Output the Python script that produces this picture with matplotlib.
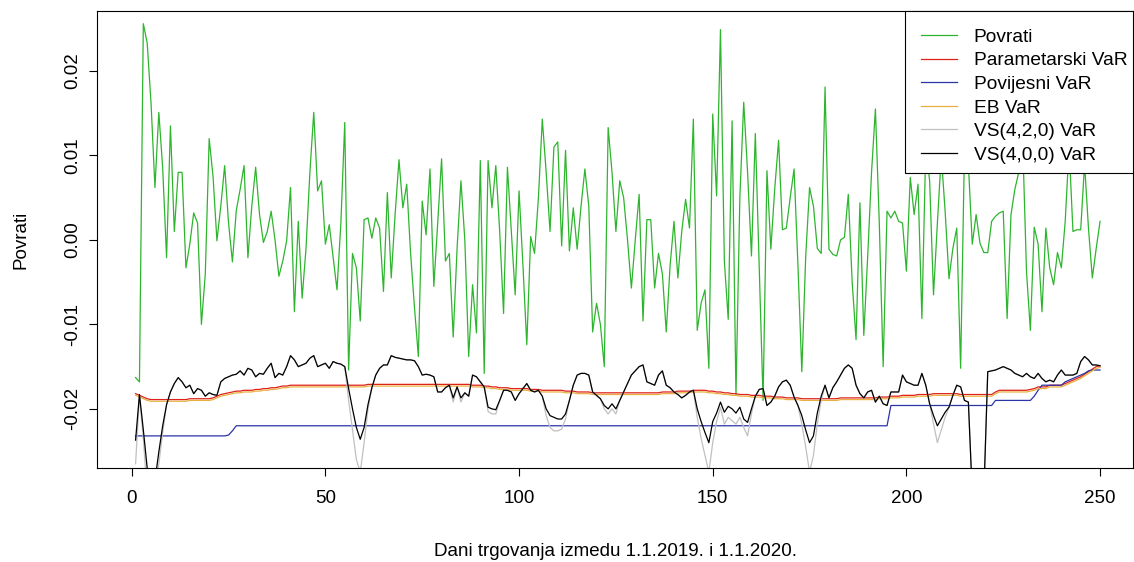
import numpy as np
import matplotlib.pyplot as plt
from matplotlib.patches import Rectangle

plt.rcParams['font.family'] = ['Liberation Sans', 'DejaVu Sans']

# trading days 1..250
dani = np.arange(1, 251)

# daily returns (Povrati)
povrati = [
    -0.0163, -0.0168, 0.0256, 0.0233, 0.0161, 0.0062, 0.0151, 0.0085, -0.0021, 0.0135,
    0.0010, 0.0080, 0.0080, -0.0033, -0.0005, 0.0032, 0.0020, -0.0100, -0.0040, 0.0120,
    0.0075, -0.0001, 0.0040, 0.0088, 0.0020, -0.0026, 0.0035, 0.0060, 0.0088, -0.0021,
    0.0040, 0.0086, 0.0030, -0.0003, 0.0010, 0.0034, 0.0000, -0.0043, -0.0025, -0.0001,
    0.0062, -0.0085, 0.0022, -0.0069, -0.0010, 0.0080, 0.0151, 0.0058, 0.0070, -0.0005,
    0.0018, -0.0020, -0.0059, 0.0020, 0.0139, -0.0154, -0.0016, -0.0033, -0.0096, 0.0024,
    0.0026, 0.0002, 0.0026, 0.0014, -0.0061, 0.0056, -0.0045, 0.0030, 0.0095, 0.0038,
    0.0066, -0.0016, -0.0080, -0.0138, 0.0046, 0.0006, 0.0084, -0.0055, 0.0020, 0.0096,
    -0.0025, -0.0016, -0.0115, -0.0010, 0.0070, 0.0000, -0.0138, -0.0053, -0.0110, 0.0094,
    -0.0158, 0.0094, 0.0038, 0.0088, 0.0010, -0.0087, 0.0086, 0.0010, -0.0065, 0.0058,
    -0.0030, -0.0124, 0.0004, -0.0016, 0.0050, 0.0143, 0.0080, 0.0010, 0.0110, 0.0116,
    -0.0007, 0.0106, -0.0013, 0.0038, -0.0011, 0.0040, 0.0084, 0.0040, -0.0109, -0.0075,
    -0.0100, -0.0150, 0.0133, 0.0080, 0.0010, 0.0070, 0.0050, 0.0000, -0.0057, 0.0000,
    0.0054, -0.0096, 0.0024, 0.0024, -0.0057, -0.0016, -0.0040, -0.0109, -0.0030, 0.0022,
    -0.0045, 0.0010, 0.0048, 0.0014, 0.0143, -0.0107, -0.0075, -0.0059, -0.0152, 0.0149,
    0.0052, 0.0249, -0.0025, -0.0094, 0.0141, -0.0184, 0.0050, 0.0163, 0.0080, -0.0019,
    0.0126, -0.0030, -0.0190, 0.0082, -0.0011, 0.0060, 0.0118, 0.0012, 0.0014, 0.0050,
    0.0084, -0.0030, -0.0156, -0.0020, 0.0062, 0.0040, -0.0010, -0.0016, 0.0181, -0.0011,
    -0.0017, -0.0019, 0.0000, 0.0003, 0.0054, -0.0050, -0.0118, 0.0044, -0.0113, -0.0020,
    0.0080, 0.0155, 0.0020, -0.0150, 0.0034, 0.0026, 0.0034, 0.0022, 0.0020, -0.0037,
    0.0074, 0.0030, 0.0066, -0.0093, 0.0110, 0.0070, -0.0065, 0.0020, 0.0100, 0.0034,
    -0.0046, -0.0010, 0.0014, -0.0152, 0.0110, 0.0090, -0.0005, 0.0030, -0.0004, -0.0015,
    -0.0015, 0.0022, 0.0028, 0.0032, 0.0034, -0.0093, 0.0030, 0.0060, 0.0080, 0.0120,
    -0.0037, -0.0107, 0.0015, -0.0005, -0.0085, 0.0014, -0.0033, -0.0053, -0.0015, -0.0033,
    0.0022, 0.0110, 0.0010, 0.0012, 0.0012, 0.0090, 0.0014, -0.0045, -0.0010, 0.0022,
]

# parametric VaR
param_var = [
    -0.0182, -0.0184, -0.0186, -0.0188, -0.0189, -0.0189, -0.0189, -0.0189, -0.0189, -0.0189,
    -0.0189, -0.0189, -0.0189, -0.0189, -0.0188, -0.0188, -0.0188, -0.0188, -0.0188, -0.0188,
    -0.0187, -0.0185, -0.0183, -0.0182, -0.0181, -0.0180, -0.0179, -0.0179, -0.0178, -0.0178,
    -0.0178, -0.0177, -0.0177, -0.0176, -0.0176, -0.0175, -0.0175, -0.0174, -0.0173, -0.0173,
    -0.0172, -0.0172, -0.0172, -0.0172, -0.0172, -0.0172, -0.0172, -0.0172, -0.0172, -0.0172,
    -0.0172, -0.0172, -0.0172, -0.0172, -0.0172, -0.0172, -0.0172, -0.0172, -0.0172, -0.0172,
    -0.0171, -0.0171, -0.0171, -0.0171, -0.0171, -0.0171, -0.0171, -0.0171, -0.0171, -0.0171,
    -0.0171, -0.0171, -0.0171, -0.0171, -0.0171, -0.0171, -0.0171, -0.0171, -0.0171, -0.0171,
    -0.0171, -0.0171, -0.0171, -0.0171, -0.0171, -0.0171, -0.0171, -0.0172, -0.0172, -0.0172,
    -0.0173, -0.0173, -0.0174, -0.0174, -0.0175, -0.0175, -0.0175, -0.0176, -0.0176, -0.0176,
    -0.0176, -0.0176, -0.0177, -0.0177, -0.0177, -0.0178, -0.0178, -0.0178, -0.0178, -0.0178,
    -0.0178, -0.0179, -0.0179, -0.0179, -0.0180, -0.0180, -0.0180, -0.0180, -0.0181, -0.0181,
    -0.0181, -0.0181, -0.0181, -0.0181, -0.0181, -0.0181, -0.0181, -0.0181, -0.0181, -0.0181,
    -0.0181, -0.0181, -0.0181, -0.0181, -0.0181, -0.0181, -0.0180, -0.0180, -0.0180, -0.0180,
    -0.0179, -0.0179, -0.0179, -0.0179, -0.0178, -0.0178, -0.0178, -0.0178, -0.0179, -0.0179,
    -0.0180, -0.0180, -0.0181, -0.0181, -0.0182, -0.0182, -0.0183, -0.0183, -0.0183, -0.0184,
    -0.0184, -0.0184, -0.0185, -0.0185, -0.0185, -0.0186, -0.0186, -0.0186, -0.0187, -0.0187,
    -0.0187, -0.0187, -0.0188, -0.0188, -0.0188, -0.0188, -0.0188, -0.0188, -0.0188, -0.0188,
    -0.0188, -0.0188, -0.0187, -0.0187, -0.0187, -0.0187, -0.0187, -0.0187, -0.0187, -0.0187,
    -0.0187, -0.0187, -0.0186, -0.0186, -0.0186, -0.0185, -0.0185, -0.0185, -0.0184, -0.0184,
    -0.0184, -0.0184, -0.0183, -0.0183, -0.0183, -0.0183, -0.0182, -0.0182, -0.0182, -0.0182,
    -0.0182, -0.0182, -0.0182, -0.0183, -0.0183, -0.0183, -0.0183, -0.0183, -0.0183, -0.0183,
    -0.0183, -0.0183, -0.0180, -0.0178, -0.0178, -0.0178, -0.0178, -0.0178, -0.0178, -0.0178,
    -0.0178, -0.0177, -0.0176, -0.0174, -0.0174, -0.0174, -0.0172, -0.0172, -0.0172, -0.0172,
    -0.0170, -0.0168, -0.0166, -0.0164, -0.0162, -0.0159, -0.0156, -0.0153, -0.0150, -0.0149,
]

# historical VaR (step levels)
hist_var = ([-0.0232] * 24 + [-0.0231, -0.0226] + [-0.0220] * 169 + [-0.0196] * 27
            + [-0.0190] * 10 + [-0.0185, -0.0178] + [-0.0172] * 6
            + [-0.0168, -0.0166, -0.0164, -0.0162, -0.0160, -0.0158, -0.0155, -0.0154, -0.0154, -0.0154])

# EB VaR
eb_var = [
    -0.0184, -0.0186, -0.0188, -0.0190, -0.0191, -0.0191, -0.0191, -0.0191, -0.0191, -0.0191,
    -0.0191, -0.0191, -0.0191, -0.0191, -0.0190, -0.0190, -0.0190, -0.0190, -0.0190, -0.0190,
    -0.0189, -0.0187, -0.0185, -0.0184, -0.0183, -0.0182, -0.0181, -0.0181, -0.0180, -0.0180,
    -0.0180, -0.0179, -0.0179, -0.0178, -0.0178, -0.0177, -0.0177, -0.0176, -0.0175, -0.0175,
    -0.0174, -0.0174, -0.0174, -0.0174, -0.0174, -0.0174, -0.0174, -0.0174, -0.0174, -0.0174,
    -0.0174, -0.0174, -0.0174, -0.0174, -0.0174, -0.0174, -0.0174, -0.0174, -0.0174, -0.0174,
    -0.0173, -0.0173, -0.0173, -0.0173, -0.0173, -0.0173, -0.0173, -0.0173, -0.0173, -0.0173,
    -0.0173, -0.0173, -0.0173, -0.0173, -0.0173, -0.0173, -0.0173, -0.0173, -0.0173, -0.0173,
    -0.0173, -0.0173, -0.0173, -0.0173, -0.0173, -0.0173, -0.0173, -0.0174, -0.0174, -0.0174,
    -0.0175, -0.0175, -0.0176, -0.0176, -0.0177, -0.0177, -0.0177, -0.0178, -0.0178, -0.0178,
    -0.0178, -0.0178, -0.0179, -0.0179, -0.0179, -0.0180, -0.0180, -0.0180, -0.0180, -0.0180,
    -0.0180, -0.0181, -0.0181, -0.0181, -0.0182, -0.0182, -0.0182, -0.0182, -0.0183, -0.0183,
    -0.0183, -0.0183, -0.0183, -0.0183, -0.0183, -0.0183, -0.0183, -0.0183, -0.0183, -0.0183,
    -0.0183, -0.0183, -0.0183, -0.0183, -0.0183, -0.0183, -0.0182, -0.0182, -0.0182, -0.0182,
    -0.0181, -0.0181, -0.0181, -0.0181, -0.0180, -0.0180, -0.0180, -0.0180, -0.0181, -0.0181,
    -0.0182, -0.0182, -0.0183, -0.0183, -0.0184, -0.0184, -0.0185, -0.0185, -0.0185, -0.0186,
    -0.0186, -0.0186, -0.0187, -0.0187, -0.0187, -0.0188, -0.0188, -0.0188, -0.0189, -0.0189,
    -0.0189, -0.0189, -0.0190, -0.0190, -0.0190, -0.0190, -0.0190, -0.0190, -0.0190, -0.0190,
    -0.0190, -0.0190, -0.0189, -0.0189, -0.0189, -0.0189, -0.0189, -0.0189, -0.0189, -0.0189,
    -0.0189, -0.0189, -0.0188, -0.0188, -0.0188, -0.0187, -0.0187, -0.0187, -0.0186, -0.0186,
    -0.0186, -0.0186, -0.0185, -0.0185, -0.0185, -0.0185, -0.0184, -0.0184, -0.0184, -0.0184,
    -0.0184, -0.0184, -0.0184, -0.0185, -0.0185, -0.0185, -0.0185, -0.0185, -0.0185, -0.0185,
    -0.0185, -0.0185, -0.0182, -0.0180, -0.0180, -0.0180, -0.0180, -0.0180, -0.0180, -0.0180,
    -0.0180, -0.0179, -0.0178, -0.0176, -0.0176, -0.0176, -0.0174, -0.0174, -0.0174, -0.0174,
    -0.0172, -0.0170, -0.0168, -0.0166, -0.0164, -0.0161, -0.0158, -0.0155, -0.0152, -0.0151,
]

# VS(4,2,0) VaR
vs420_var = [
    -0.0265, -0.0185, -0.0235, -0.0300, -0.0300, -0.0300, -0.0265, -0.0228, -0.0195, -0.0180,
    -0.0170, -0.0163, -0.0168, -0.0175, -0.0172, -0.0182, -0.0176, -0.0178, -0.0185, -0.0181,
    -0.0183, -0.0184, -0.0168, -0.0164, -0.0162, -0.0160, -0.0159, -0.0155, -0.0160, -0.0152,
    -0.0154, -0.0162, -0.0158, -0.0159, -0.0152, -0.0146, -0.0163, -0.0158, -0.0160, -0.0150,
    -0.0137, -0.0142, -0.0150, -0.0148, -0.0146, -0.0140, -0.0137, -0.0150, -0.0148, -0.0146,
    -0.0152, -0.0144, -0.0146, -0.0147, -0.0150, -0.0190, -0.0225, -0.0260, -0.0275, -0.0240,
    -0.0200, -0.0175, -0.0160, -0.0152, -0.0148, -0.0148, -0.0137, -0.0139, -0.0140, -0.0141,
    -0.0142, -0.0142, -0.0143, -0.0150, -0.0160, -0.0159, -0.0160, -0.0162, -0.0180, -0.0180,
    -0.0175, -0.0172, -0.0192, -0.0174, -0.0192, -0.0181, -0.0185, -0.0160, -0.0162, -0.0168,
    -0.0174, -0.0203, -0.0206, -0.0206, -0.0190, -0.0178, -0.0178, -0.0180, -0.0190, -0.0182,
    -0.0176, -0.0170, -0.0178, -0.0180, -0.0178, -0.0185, -0.0208, -0.0222, -0.0226, -0.0226,
    -0.0224, -0.0212, -0.0190, -0.0172, -0.0160, -0.0158, -0.0158, -0.0160, -0.0180, -0.0184,
    -0.0188, -0.0200, -0.0206, -0.0200, -0.0206, -0.0190, -0.0180, -0.0170, -0.0160, -0.0155,
    -0.0150, -0.0148, -0.0168, -0.0170, -0.0172, -0.0160, -0.0155, -0.0172, -0.0175, -0.0180,
    -0.0183, -0.0187, -0.0184, -0.0180, -0.0178, -0.0210, -0.0235, -0.0255, -0.0275, -0.0240,
    -0.0215, -0.0198, -0.0218, -0.0210, -0.0214, -0.0218, -0.0210, -0.0222, -0.0232, -0.0206,
    -0.0185, -0.0177, -0.0176, -0.0196, -0.0192, -0.0185, -0.0174, -0.0168, -0.0166, -0.0172,
    -0.0186, -0.0196, -0.0218, -0.0245, -0.0275, -0.0255, -0.0218, -0.0190, -0.0172, -0.0187,
    -0.0175, -0.0168, -0.0160, -0.0152, -0.0148, -0.0152, -0.0172, -0.0182, -0.0187, -0.0180,
    -0.0178, -0.0192, -0.0185, -0.0194, -0.0196, -0.0180, -0.0180, -0.0180, -0.0160, -0.0168,
    -0.0170, -0.0172, -0.0172, -0.0158, -0.0172, -0.0194, -0.0218, -0.0240, -0.0225, -0.0210,
    -0.0198, -0.0184, -0.0172, -0.0174, -0.0190, -0.0192, -0.0300, -0.0300, -0.0300, -0.0300,
    -0.0156, -0.0155, -0.0154, -0.0152, -0.0150, -0.0152, -0.0154, -0.0158, -0.0160, -0.0162,
    -0.0158, -0.0162, -0.0164, -0.0158, -0.0164, -0.0168, -0.0166, -0.0168, -0.0160, -0.0154,
    -0.0160, -0.0160, -0.0160, -0.0158, -0.0144, -0.0138, -0.0142, -0.0148, -0.0148, -0.0149,
]

# VS(4,0,0) VaR
vs400_var = [
    -0.0237, -0.0183, -0.0225, -0.0270, -0.0290, -0.0285, -0.0251, -0.0220, -0.0195, -0.0180,
    -0.0170, -0.0163, -0.0168, -0.0175, -0.0172, -0.0182, -0.0176, -0.0178, -0.0185, -0.0181,
    -0.0183, -0.0184, -0.0168, -0.0164, -0.0162, -0.0160, -0.0159, -0.0155, -0.0160, -0.0152,
    -0.0154, -0.0162, -0.0158, -0.0159, -0.0152, -0.0146, -0.0163, -0.0158, -0.0160, -0.0150,
    -0.0137, -0.0142, -0.0150, -0.0148, -0.0146, -0.0140, -0.0137, -0.0150, -0.0148, -0.0146,
    -0.0152, -0.0144, -0.0146, -0.0147, -0.0150, -0.0176, -0.0200, -0.0222, -0.0236, -0.0222,
    -0.0195, -0.0175, -0.0160, -0.0152, -0.0148, -0.0148, -0.0137, -0.0139, -0.0140, -0.0141,
    -0.0142, -0.0142, -0.0143, -0.0150, -0.0160, -0.0159, -0.0160, -0.0162, -0.0180, -0.0180,
    -0.0175, -0.0172, -0.0187, -0.0174, -0.0187, -0.0181, -0.0185, -0.0160, -0.0162, -0.0168,
    -0.0174, -0.0198, -0.0200, -0.0201, -0.0190, -0.0178, -0.0178, -0.0180, -0.0190, -0.0182,
    -0.0176, -0.0170, -0.0178, -0.0180, -0.0178, -0.0185, -0.0200, -0.0208, -0.0210, -0.0212,
    -0.0212, -0.0206, -0.0190, -0.0172, -0.0160, -0.0158, -0.0158, -0.0160, -0.0180, -0.0184,
    -0.0188, -0.0196, -0.0200, -0.0194, -0.0200, -0.0190, -0.0180, -0.0170, -0.0160, -0.0155,
    -0.0150, -0.0148, -0.0168, -0.0170, -0.0172, -0.0160, -0.0155, -0.0172, -0.0175, -0.0180,
    -0.0183, -0.0187, -0.0184, -0.0180, -0.0178, -0.0200, -0.0215, -0.0228, -0.0240, -0.0215,
    -0.0205, -0.0192, -0.0204, -0.0197, -0.0200, -0.0205, -0.0198, -0.0212, -0.0216, -0.0200,
    -0.0185, -0.0177, -0.0176, -0.0196, -0.0192, -0.0185, -0.0174, -0.0168, -0.0166, -0.0172,
    -0.0186, -0.0196, -0.0208, -0.0225, -0.0240, -0.0232, -0.0205, -0.0185, -0.0172, -0.0187,
    -0.0175, -0.0168, -0.0160, -0.0152, -0.0148, -0.0152, -0.0172, -0.0182, -0.0187, -0.0180,
    -0.0178, -0.0192, -0.0185, -0.0194, -0.0196, -0.0180, -0.0180, -0.0180, -0.0160, -0.0168,
    -0.0170, -0.0172, -0.0172, -0.0158, -0.0172, -0.0194, -0.0208, -0.0220, -0.0212, -0.0204,
    -0.0198, -0.0184, -0.0172, -0.0174, -0.0190, -0.0192, -0.0300, -0.0300, -0.0300, -0.0300,
    -0.0156, -0.0155, -0.0154, -0.0152, -0.0150, -0.0152, -0.0154, -0.0158, -0.0160, -0.0162,
    -0.0158, -0.0162, -0.0164, -0.0158, -0.0164, -0.0168, -0.0166, -0.0168, -0.0160, -0.0154,
    -0.0160, -0.0160, -0.0160, -0.0158, -0.0144, -0.0138, -0.0142, -0.0148, -0.0148, -0.0149,
]

legend_labels = ["Povrati", "Parametarski VaR", "Povijesni VaR", "EB VaR",
                 "VS(4,2,0) VaR", "VS(4,0,0) VaR"]
colors = ["#2DB52D", "#E0201A", "#2B35A6", "#E8B040", "#C0C0C0", "black"]

x_ticks = [0, 50, 100, 150, 200, 250]
y_ticks = [-0.02, -0.01, 0.00, 0.01, 0.02]
y_tick_labels = ["-0.02", "-0.01", "0.00", "0.01", "0.02"]

W, H = 1134, 562
fig = plt.figure(figsize=(W / 100, H / 100), dpi=100)
ax = fig.add_axes([97 / W, (H - 468) / H, (1133 - 97) / W, (468 - 11) / H])

series = [povrati, param_var, hist_var, eb_var, vs420_var, vs400_var]
for vals, col, lab in zip(series, colors, legend_labels):
    ax.plot(dani, vals, color=col, lw=0.9, label=lab)

ax.set_xlim(-8.96, 258.5)
ax.set_ylim(-0.0270, 0.0271)

fs = 13.5
ax.set_xticks(x_ticks)
ax.set_xticklabels([str(t) for t in x_ticks], fontsize=fs)
ax.set_yticks(y_ticks)
ax.set_yticklabels(y_tick_labels, fontsize=fs, rotation=90, va='center')
ax.tick_params(axis='both', direction='out', length=5.5, width=0.8, color='black')
ax.tick_params(axis='x', pad=10)
ax.tick_params(axis='y', pad=6)
for s in ax.spines.values():
    s.set_linewidth(0.8)
    s.set_color('black')

ax.set_xlabel("Dani trgovanja izmedu 1.1.2019. i 1.1.2020.", fontsize=fs, labelpad=26)
ax.set_ylabel("Povrati", fontsize=fs, labelpad=25)

# R-style legend box: tight on the right, sitting in the top-right corner
box = Rectangle((905 / W, (H - 173) / H), (1133 - 905) / W, (173 - 11) / H,
                transform=fig.transFigure, facecolor='white', edgecolor='black',
                lw=0.8, zorder=4, clip_on=False)
ax.add_patch(box)
leg = ax.legend(loc='upper left', bbox_to_anchor=(921 / W, 1 - 28.5 / H),
                bbox_transform=fig.transFigure, fontsize=13.8, frameon=False,
                borderaxespad=0, borderpad=0, handlelength=1.9,
                handletextpad=0.85, labelspacing=0.32)
leg.set_zorder(5)

fig.savefig("out.png", dpi=100)
